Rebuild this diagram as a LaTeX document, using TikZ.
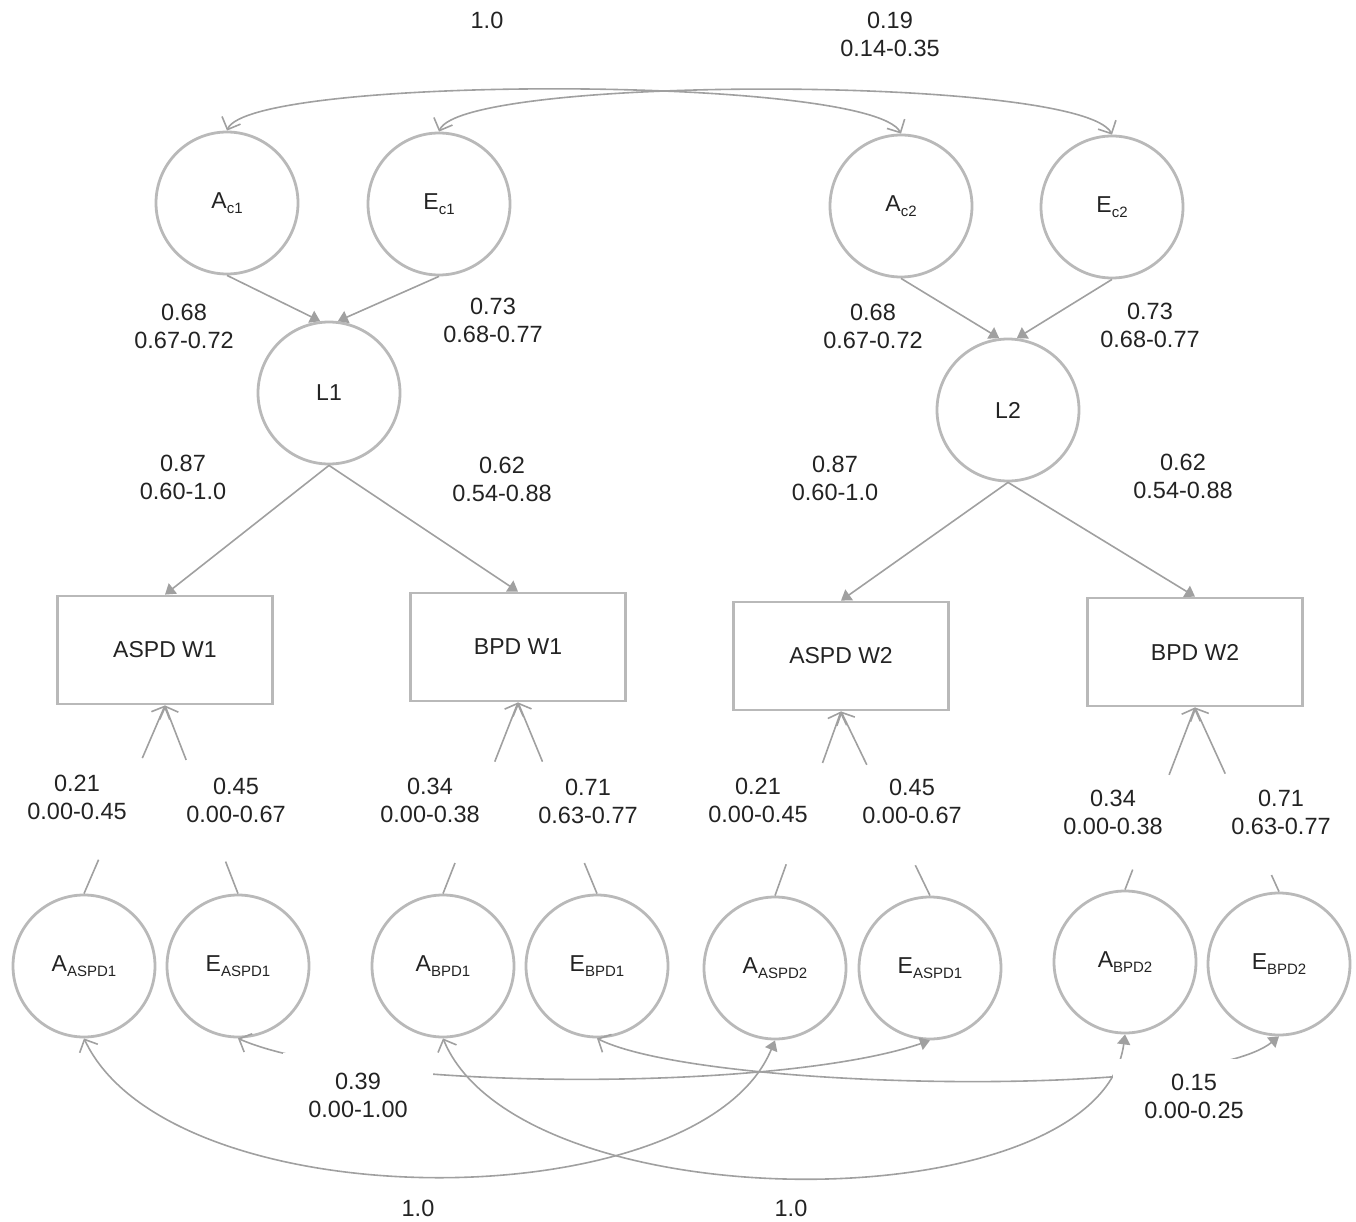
\documentclass[tikz,border=0pt]{standalone}
\usepackage{fontspec}
\setmainfont{Liberation Sans}
\usetikzlibrary{arrows.meta,calc}
\definecolor{shp}{RGB}{185,185,185}
\definecolor{ln}{RGB}{160,160,160}
\definecolor{txt}{RGB}{35,35,35}
\newcommand\mysub[1]{\raisebox{-5pt}{\fontsize{15}{15}\selectfont #1}}
\tikzset{
  openv/.tip={Straight Barb[length=10pt,width=20pt]},
  filltri/.tip={Triangle[length=10pt,width=13pt]}
}
\begin{document}
\begin{tikzpicture}[x=1pt,y=-1pt,
  lat/.style={circle, draw=shp, line width=2.8pt, minimum size=142pt, inner sep=0pt, font=\fontsize{23}{26}\selectfont, text=txt},
  obs/.style={rectangle, draw=shp, line width=2.8pt, minimum width=215pt, minimum height=108pt, inner sep=0pt, font=\fontsize{23}{26}\selectfont, text=txt},
  conn/.style={draw=ln, line width=1.6pt},
  lbl/.style={align=center, font=\fontsize{23.5}{28}\selectfont, text=txt, inner sep=0pt}]
\useasboundingbox (0,0) rectangle (1356,1222);

% latent and observed nodes
\node[lat] (ac1) at (227,203) {A\mysub{c1}};
\node[lat] (ec1) at (439,204) {E\mysub{c1}};
\node[lat] (ac2) at (901,206) {A\mysub{c2}};
\node[lat] (ec2) at (1112,207) {E\mysub{c2}};
\node[lat] (l1) at (329,393) {L1};
\node[lat] (l2) at (1008,410) {L2};
\node[obs] (w1a) at (165,650) {ASPD W1};
\node[obs] (w1b) at (518,647) {BPD W1};
\node[obs] (w2a) at (841,656) {ASPD W2};
\node[obs] (w2b) at (1195,652) {BPD W2};
\node[lat] (aa1) at (84,966) {A\mysub{ASPD1}};
\node[lat] (ea1) at (238,966) {E\mysub{ASPD1}};
\node[lat] (ab1) at (443,966) {A\mysub{BPD1}};
\node[lat] (eb1) at (597,966) {E\mysub{BPD1}};
\node[lat] (aa2) at (775,968) {A\mysub{ASPD2}};
\node[lat] (ea2) at (930,968) {E\mysub{ASPD1}};
\node[lat] (ab2) at (1125,962) {A\mysub{BPD2}};
\node[lat] (eb2) at (1279,964) {E\mysub{BPD2}};

% top correlations
\draw[conn, {openv}-{openv}] (ac1.north) .. controls (250,75) and (870,75) .. (ac2.north);
\draw[conn, {openv}-{openv}] (ec1.north) .. controls (462,75) and (1082,75) .. (ec2.north);

% loadings
\draw[conn, -{filltri}] (ac1.south) -- (l1.97);
\draw[conn, -{filltri}] (ec1.south) -- (l1.83);
\draw[conn, -{filltri}] (ac2.south) -- (l2.97);
\draw[conn, -{filltri}] (ec2.south) -- (l2.83);
\draw[conn, -{filltri}] (l1.south) -- (w1a.north);
\draw[conn, -{filltri}] (l1.south) -- (w1b.north);
\draw[conn, -{filltri}] (l2.south) -- (w2a.north);
\draw[conn, -{filltri}] (l2.south) -- (w2b.north);

% residual paths (interrupted by labels)
\draw[conn] (aa1.north) -- ($(aa1.north)!0.18!(w1a.south)$);
\draw[conn, -{openv}] ($(aa1.north)!0.72!(w1a.south)$) -- (w1a.south);
\draw[conn] (ea1.north) -- ($(ea1.north)!0.17!(w1a.south)$);
\draw[conn, -{openv}] ($(ea1.north)!0.71!(w1a.south)$) -- (w1a.south);
\draw[conn] (ab1.north) -- ($(ab1.north)!0.16!(w1b.south)$);
\draw[conn, -{openv}] ($(ab1.north)!0.69!(w1b.south)$) -- (w1b.south);
\draw[conn] (eb1.north) -- ($(eb1.north)!0.16!(w1b.south)$);
\draw[conn, -{openv}] ($(eb1.north)!0.69!(w1b.south)$) -- (w1b.south);
\draw[conn] (aa2.north) -- ($(aa2.north)!0.17!(w2a.south)$);
\draw[conn, -{openv}] ($(aa2.north)!0.72!(w2a.south)$) -- (w2a.south);
\draw[conn] (ea2.north) -- ($(ea2.north)!0.165!(w2a.south)$);
\draw[conn, -{openv}] ($(ea2.north)!0.71!(w2a.south)$) -- (w2a.south);
\draw[conn] (ab2.north) -- ($(ab2.north)!0.11!(w2b.south)$);
\draw[conn, -{openv}] ($(ab2.north)!0.63!(w2b.south)$) -- (w2b.south);
\draw[conn] (eb2.north) -- ($(eb2.north)!0.09!(w2b.south)$);
\draw[conn, -{openv}] ($(eb2.north)!0.64!(w2b.south)$) -- (w2b.south);

% bottom correlations
\draw[conn, {openv}-{filltri}] (aa1.south) .. controls (170,1222) and (700,1222) .. (aa2.south);
\draw[conn, {openv}-{filltri}] (ab1.south) .. controls (520,1225) and (1100,1225) .. (ab2.south);
\draw[conn, {openv}-{filltri}] (ea1.south) .. controls (360,1092) and (780,1092) .. (ea2.south);
\draw[conn, {openv}-{filltri}] (eb1.south) .. controls (700,1090) and (1200,1100) .. (eb2.south);

% labels
\node[lbl] (t1) at (487,20) {1.0};
\node[lbl] (t2) at (890,34) {0.19\\0.14-0.35};
\node[lbl] (m1) at (184,326) {0.68\\0.67-0.72};
\node[lbl] (m2) at (493,320) {0.73\\0.68-0.77};
\node[lbl] (m3) at (183,477) {0.87\\0.60-1.0};
\node[lbl] (m4) at (502,479) {0.62\\0.54-0.88};
\node[lbl] (m5) at (873,326) {0.68\\0.67-0.72};
\node[lbl] (m6) at (1150,325) {0.73\\0.68-0.77};
\node[lbl] (m7) at (835,478) {0.87\\0.60-1.0};
\node[lbl] (m8) at (1183,476) {0.62\\0.54-0.88};
\node[lbl] (r1) at (77,797) {0.21\\0.00-0.45};
\node[lbl] (r2) at (236,800) {0.45\\0.00-0.67};
\node[lbl] (r3) at (430,800) {0.34\\0.00-0.38};
\node[lbl] (r4) at (588,801) {0.71\\0.63-0.77};
\node[lbl] (r5) at (758,800) {0.21\\0.00-0.45};
\node[lbl] (r6) at (912,801) {0.45\\0.00-0.67};
\node[lbl] (r7) at (1113,812) {0.34\\0.00-0.38};
\node[lbl] (r8) at (1281,812) {0.71\\0.63-0.77};
\node[lbl, fill=white, minimum width=150pt, minimum height=84pt] (c39) at (358,1095) {0.39\\0.00-1.00};
\node[lbl, fill=white, minimum width=162pt, minimum height=74pt] (c15) at (1194,1096) {0.15\\0.00-0.25};
\node[lbl] (b1) at (418,1208) {1.0};
\node[lbl] (b2) at (791,1208) {1.0};
\end{tikzpicture}
\end{document}
